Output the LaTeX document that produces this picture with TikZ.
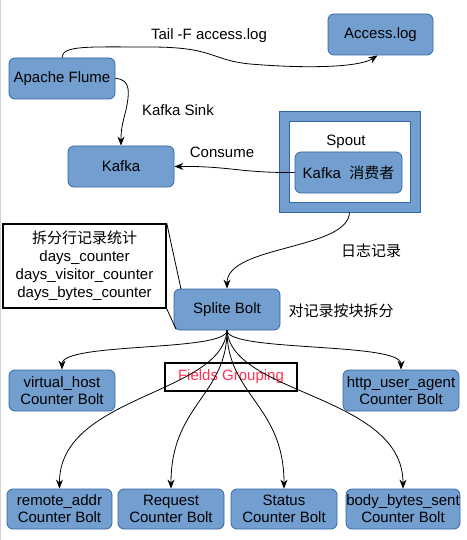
\documentclass[tikz,border=0pt]{standalone}
\usepackage{fontspec}
\setmainfont{Liberation Sans}
\newfontfamily\cjk{Noto Sans CJK SC}
\usetikzlibrary{arrows.meta}
\definecolor{nfill}{HTML}{729FCF}
\definecolor{nline}{HTML}{3465A4}
\definecolor{fgred}{HTML}{FF3355}
\begin{document}
\begin{tikzpicture}[x=1pt,y=-1pt,
 box/.style={draw=nline, fill=nfill, rounded corners=6pt, inner sep=0pt, align=center, font=\fontsize{15}{17}\selectfont, line width=0.8pt},
 lbl/.style={inner sep=0pt, font=\fontsize{15}{17}\selectfont},
 arr/.style={-{Stealth[length=9pt,width=7pt]}, line width=0.8pt}]
\useasboundingbox (0,0) rectangle (466,540);
\draw[gray!35, line width=1pt] (0.5,0) -- (0.5,540);
% nodes
\node[box, minimum width=106, minimum height=41] (flume) at (62,78.5) {Apache Flume};
\node[box, minimum width=105, minimum height=41] (access) at (380.5,34.5) {Access.log};
\node[box, minimum width=106, minimum height=41] (kafka) at (121,166.5) {Kafka};
\node[draw=nfill, line width=10pt, minimum width=131, minimum height=91, outer sep=5pt, inner sep=0pt] (spout) at (349.5,161.5) {};
\draw[nline, line width=0.6pt] (279,111) rectangle (420,212);
\draw[nline, line width=0.6pt] (289,121) rectangle (410,202);
\node[lbl] (spoutlbl) at (346,142) {Spout};
\node[box, minimum width=107, minimum height=41] (kc) at (348.5,172.5) {Kafka\ \ {\cjk 消费者}};
\node[box, minimum width=106, minimum height=41] (split) at (227,309.5) {Splite Bolt};
\node[draw, line width=1.5pt, fill=white, minimum width=163, minimum height=84, inner sep=0pt, align=center, font=\fontsize{15}{18}\selectfont] (note) at (84.5,266) {{\cjk 拆分行记录统计}\\days\_counter\\days\_visitor\_counter\\days\_bytes\_counter};
\coordinate (c1) at (181,289);
\coordinate (c2) at (176,329);
\draw[line width=0.8pt] (note.north east) -- (c1);
\draw[line width=0.8pt] (note.south east) -- (c2);
\node[draw, line width=1.5pt, minimum width=132, minimum height=28, inner sep=0pt, text=fgred, font=\fontsize{15}{17}\selectfont] (fg) at (231,377) {Fields Grouping};
\node[box, minimum width=106, minimum height=41] (vh) at (62,390.5) {virtual\_host\\Counter Bolt};
\node[box, minimum width=116, minimum height=41] (ua) at (401,390.5) {http\_user\_agent\\Counter Bolt};
\node[box, minimum width=105, minimum height=40] (ra) at (59.5,509) {remote\_addr\\Counter Bolt};
\node[box, minimum width=106, minimum height=40] (rq) at (171,509) {Request\\Counter Bolt};
\node[box, minimum width=106, minimum height=40] (st) at (284,509) {Status\\Counter Bolt};
\node[box, minimum width=114, minimum height=40] (bb) at (403,509) {body\_bytes\_sent\\Counter Bolt};
% labels
\node[lbl] (l1) at (209,36) {Tail -F access.log};
\node[lbl] (l2) at (178,110) {Kafka Sink};
\node[lbl] (l3) at (222,152) {Consume};
\node[lbl, font=\fontsize{15}{17}\selectfont\cjk] (l4) at (371,251) {日志记录};
\node[lbl, font=\fontsize{15}{17}\selectfont\cjk] (l5) at (341,311) {对记录按块拆分};
% connectors
\draw[arr] (flume.north) .. controls (62,45) and (90,47) .. (150,47) .. controls (215,47) and (210,60) .. (250,64) .. controls (310,69) and (360,67) .. ([xshift=-3pt]access.south);
\draw[arr] (flume.east) .. controls (132,79) and (129,95) .. (126,110) .. controls (122,125) and (121,130) .. (kafka.north);
\draw[arr] (kc.west) .. controls (240,173) and (230,166) .. (kafka.east);
\draw[arr] (spout.south) .. controls (349,250) and (227,245) .. (split.north);
\draw[arr] (split.south) .. controls (227,352) and (62,342) .. (vh.north);
\draw[arr] (split.south) .. controls (227,352) and (401,342) .. (ua.north);
\draw[arr] (split.south) .. controls (222,395) and (59,395) .. (ra.north);
\draw[arr] (split.south) .. controls (227,395) and (171,405) .. (rq.north);
\draw[arr] (split.south) .. controls (227,395) and (284,405) .. (st.north);
\draw[arr] (split.south) .. controls (232,395) and (403,395) .. (bb.north);
\end{tikzpicture}
\end{document}
